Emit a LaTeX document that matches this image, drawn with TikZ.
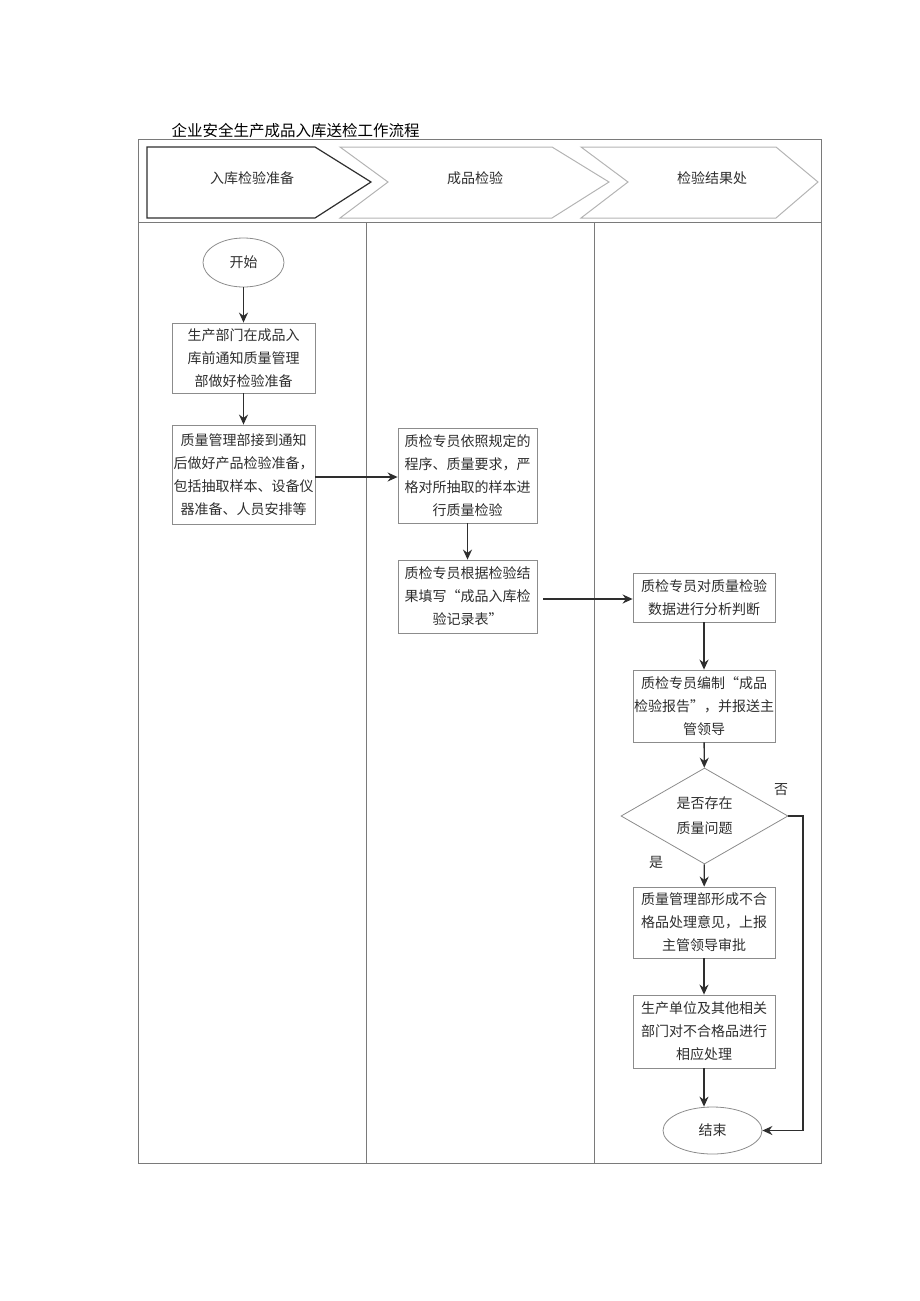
\documentclass[tikz,border=0pt]{standalone}
\usepackage{fontspec}
\setmainfont{Noto Sans CJK SC}
\usetikzlibrary{shapes.geometric,arrows.meta}

\definecolor{framegray}{HTML}{7A7A7A}
\definecolor{boxgray}{HTML}{8C8C8C}
\definecolor{lightgray}{HTML}{B4B4B4}
\definecolor{inkgray}{HTML}{2E2E2E}

\tikzset{
  stepbox/.style={draw=boxgray, line width=0.8pt, align=center, inner sep=0pt,
    text=inkgray, font=\fontsize{14}{23}\selectfont},
  terminal/.style={ellipse, draw=boxgray, line width=0.8pt, inner sep=0pt,
    text=inkgray, font=\fontsize{14}{16}\selectfont},
  decision/.style={diamond, draw=boxgray, line width=0.8pt, inner sep=0pt, align=center,
    text=inkgray, font=\fontsize{14}{25}\selectfont},
  flow/.style={line width=1.4pt, draw=inkgray, -{Stealth[length=10pt,width=9pt]}},
  lanetitle/.style={text=inkgray, font=\fontsize{14}{16}\selectfont},
  tag/.style={text=inkgray, font=\fontsize{14}{16}\selectfont}
}

\begin{document}
\begin{tikzpicture}[x=1pt,y=-1pt]
\useasboundingbox (0,0) rectangle (920,1301);

% title
\node[anchor=west, font=\fontsize{15.5}{18}\selectfont] (title) at (168,131) {企业安全生产成品入库送检工作流程};

% frame and lanes
\draw[framegray, line width=1pt] (138,139) rectangle (821,1163);
\draw[framegray, line width=1pt] (138,222) -- (821,222);
\draw[framegray, line width=1pt] (366,222) -- (366,1163);
\draw[framegray, line width=1pt] (594,222) -- (594,1163);

% header chevrons
\draw[inkgray, line width=1.2pt] (147,147) -- (315,147) -- (371,182) -- (315,218) -- (147,218) -- cycle;
\draw[lightgray, line width=1pt] (340,147) -- (552,147) -- (609,182) -- (552,218) -- (340,218) -- (388,182) -- cycle;
\draw[lightgray, line width=1pt] (581,147) -- (776,147) -- (818,182) -- (776,218) -- (581,218) -- (628,182) -- cycle;
\node[lanetitle] (lane1) at (252,178) {入库检验准备};
\node[lanetitle] (lane2) at (475,178) {成品检验};
\node[lanetitle] (lane3) at (712,178) {检验结果处};

% nodes
\node[terminal, minimum width=81, minimum height=49] (start) at (243.5,262.5) {开始};
\node[stepbox, minimum width=143, minimum height=70] (notify) at (243.5,358)
  {生产部门在成品入\\库前通知质量管理\\部做好检验准备};
\node[stepbox, minimum width=143, minimum height=99] (prepare) at (243.5,474.5)
  {质量管理部接到通知\\后做好产品检验准备，\\包括抽取样本、设备仪\\器准备、人员安排等};
\node[stepbox, minimum width=139, minimum height=95] (inspect) at (467.5,475.5)
  {质检专员依照规定的\\程序、质量要求，严\\格对所抽取的样本进\\行质量检验};
\node[stepbox, minimum width=139, minimum height=73] (record) at (467.5,596.5)
  {质检专员根据检验结\\果填写“成品入库检\\验记录表”};
\node[stepbox, minimum width=142, minimum height=49] (analyse) at (704,597.5)
  {质检专员对质量检验\\数据进行分析判断};
\node[stepbox, minimum width=142, minimum height=72] (report) at (704,706)
  {质检专员编制“成品\\检验报告”，并报送主\\管领导};
\node[decision, minimum width=167, minimum height=96] (check) at (704.5,816)
  {是否存在\\质量问题};
\node[stepbox, minimum width=142, minimum height=71] (opinion) at (704,922.5)
  {质量管理部形成不合\\格品处理意见，上报\\主管领导审批};
\node[stepbox, minimum width=142, minimum height=73] (handle) at (704,1031.5)
  {生产单位及其他相关\\部门对不合格品进行\\相应处理};
\node[terminal, minimum width=99, minimum height=47] (finish) at (712.5,1130.5) {结束};

\node[tag] (no) at (781,790) {否};
\node[tag] (yes) at (656,862) {是};

% connectors
\draw[flow] (start) -- (notify);
\draw[flow] (notify) -- (prepare);
\draw[flow] (prepare.east |- 0,477) -- (inspect.west |- 0,477);
\draw[flow] (inspect) -- (record);
\draw[flow, shorten <=6pt] (record.east |- 0,599) -- (analyse.west |- 0,599);
\draw[flow] (analyse) -- (report);
\draw[flow] (report) -- (check);
\draw[flow] (check) -- (opinion);
\draw[flow] (opinion) -- (handle);
\draw[flow] (handle.south) -- (finish.north -| handle.south);
\draw[flow] (check.east) -- (803,816) |- (finish.east);

\end{tikzpicture}
\end{document}
